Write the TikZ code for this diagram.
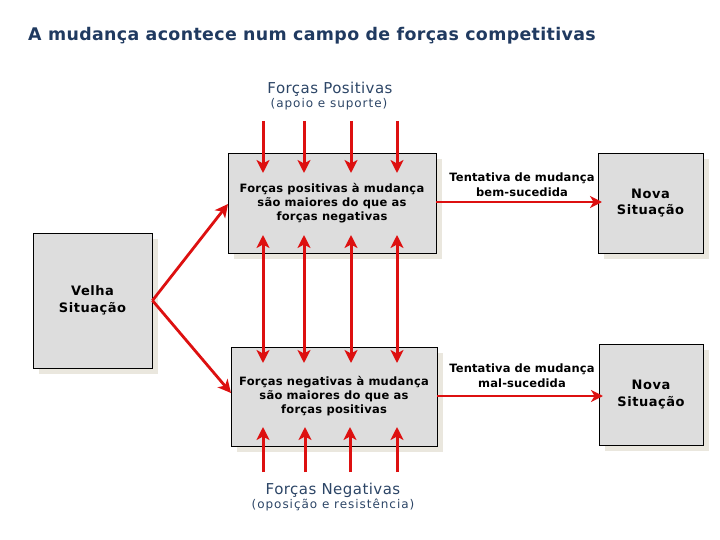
\documentclass[tikz,border=0pt]{standalone}
\usepackage{fontspec}
\setmainfont{DejaVu Sans}
\newfontfamily\ttlf[LetterSpace=2]{DejaVu Sans}
\newfontfamily\lblf[LetterSpace=3]{DejaVu Sans}
\newfontfamily\subf[LetterSpace=8]{DejaVu Sans}
\newfontfamily\bxf[LetterSpace=2]{DejaVu Sans}
\newfontfamily\tnf[LetterSpace=1]{DejaVu Sans}
\newfontfamily\sitf[LetterSpace=4]{DejaVu Sans}
\usetikzlibrary{arrows.meta,shadows}
\definecolor{navy}{HTML}{203A60}
\definecolor{lblc}{HTML}{2C4566}
\definecolor{arr}{HTML}{DD1010}
\definecolor{boxg}{HTML}{DDDDDD}
\definecolor{shc}{HTML}{EAE7DE}
\tikzset{
  box/.style={draw=black, line width=0.9pt, fill=boxg, inner sep=0pt, align=center,
    general shadow={fill=shc, shadow xshift=6pt, shadow yshift=-6pt}},
  bigtxt/.style={font=\bxf\bfseries\fontsize{11.5}{14}\selectfont},
  tntxt/.style={font=\tnf\bfseries\fontsize{11.5}{15}\selectfont},
  sittxt/.style={font=\sitf\bfseries\fontsize{13}{16.5}\selectfont},
  lbltxt/.style={text=lblc, font=\lblf\fontsize{15}{16}\selectfont},
  subtxt/.style={text=lblc, font=\subf\fontsize{12}{13}\selectfont},
  force/.style={draw=arr, line width=3pt, -{Stealth[length=13pt,width=13pt,inset=3.5pt]}},
  dforce/.style={draw=arr, line width=3pt, {Stealth[length=13pt,width=13pt,inset=3.5pt]}-{Stealth[length=13pt,width=13pt,inset=3.5pt]}},
  hforce/.style={draw=arr, line width=2.5pt, -{Stealth[length=12pt,width=12pt,inset=3.5pt]}},
}
\begin{document}
\begin{tikzpicture}[x=1pt,y=-1pt]
\useasboundingbox (0,0) rectangle (720,540);
% title
\node[anchor=west, text=navy, font=\ttlf\bfseries\fontsize{17.4}{19}\selectfont, inner sep=0pt] (title) at (28,36) {A mudança acontece num campo de forças competitivas};
% labels
\node[lbltxt, inner sep=0pt] (fp) at (330,89) {Forças Positivas};
\node[subtxt, inner sep=0pt] (fps) at (329,104) {(apoio e suporte)};
\node[lbltxt, inner sep=0pt] (fn) at (333,490) {Forças Negativas};
\node[subtxt, inner sep=0pt] (fns) at (333,505) {(oposição e resistência)};
% boxes
\node[box, bigtxt, minimum width=208pt, minimum height=100pt] (top) at (332,203) {Forças positivas à mudança\\são maiores do que as\\forças negativas};
\node[box, bigtxt, minimum width=206pt, minimum height=99pt] (bot) at (334,396.5) {Forças negativas à mudança\\são maiores do que as\\forças positivas};
\node[box, sittxt, minimum width=119pt, minimum height=135pt] (velha) at (92.5,300.5) {Velha\\Situação};
\node[box, sittxt, minimum width=105pt, minimum height=100pt] (nova1) at (650.5,203) {Nova\\Situação};
\node[box, sittxt, minimum width=104pt, minimum height=101pt] (nova2) at (651,394.5) {Nova\\Situação};
% attempt labels
\node[tntxt, align=center, inner sep=0pt] (t1) at (522,184.5) {Tentativa de mudança\\bem-sucedida};
\node[tntxt, align=center, inner sep=0pt] (t2) at (522,376) {Tentativa de mudança\\mal-sucedida};
% coordinates for force arrows
\foreach \i/\x in {1/263,2/304,3/351,4/397}{
  \coordinate (ps\i) at (\x,121);
  \coordinate (pe\i) at (\x,173);
  \coordinate (ms\i) at (\x,235);
  \coordinate (me\i) at (\x,363);
}
\foreach \i/\x in {1/263,2/305,3/350,4/397}{
  \coordinate (ns\i) at (\x,472);
  \coordinate (ne\i) at (\x,427);
}
\coordinate (dtop) at (228,204);
\coordinate (dbot) at (231,393);
\coordinate (h1) at (602,202);
\coordinate (h1s) at (436,202);
\coordinate (h2) at (603,396);
\coordinate (h2s) at (437,396);
% arrows
\foreach \i in {1,2,3,4}{
  \draw[force] (ps\i) -- (pe\i);
  \draw[dforce] (ms\i) -- (me\i);
  \draw[force] (ns\i) -- (ne\i);
}
\draw[force, line width=2.8pt] (velha.east) -- (dtop);
\draw[force, line width=2.8pt] (velha.east) -- (dbot);
\draw[hforce] (h1s) -- (h1);
\draw[hforce] (h2s) -- (h2);
\end{tikzpicture}
\end{document}
